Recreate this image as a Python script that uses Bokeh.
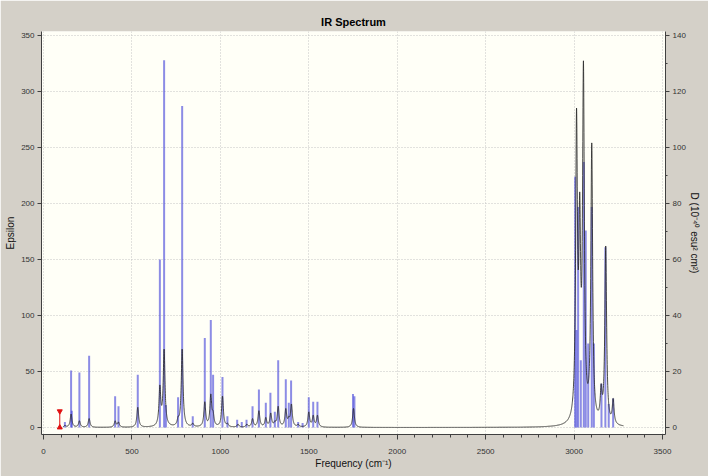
import numpy as np
from bokeh.plotting import figure
from bokeh.models import Range1d, LinearAxis, SingleIntervalTicker, ColumnDataSource
from bokeh.embed import file_html
from bokeh.resources import INLINE

# ---- data ----
stick_freq = [121, 156, 160, 203, 258, 405, 424, 533, 658, 682, 692, 761, 784, 844,
              912, 946, 959, 1012, 1040, 1095, 1121, 1148, 1182, 1218, 1257, 1283,
              1308, 1327, 1370, 1387, 1400, 1440, 1465, 1500, 1525, 1549, 1750, 1758,
              3006, 3014, 3023, 3038, 3055, 3066, 3080, 3100, 3112, 3155, 3177, 3196, 3221]
stick_eps = [5, 51, 15, 49, 64, 28, 19, 47, 150, 328, 20, 27, 287, 10,
             80, 96, 47, 45, 10, 7, 5, 7, 19, 34, 22, 31,
             14, 60, 43, 22, 42, 5, 4, 27, 23, 23, 30, 28,
             224, 87, 197, 60, 237, 176, 75, 197, 75, 39, 161, 21, 26]

band_freq = [121, 156, 203, 258, 405, 424, 533, 658, 682, 761, 784, 844, 912, 946,
             959, 1012, 1040, 1100, 1150, 1182, 1218, 1257, 1285, 1308, 1327, 1370,
             1387, 1402, 1440, 1500, 1525, 1549, 1753,
             3014, 3032, 3053, 3075, 3100, 3153, 3179, 3221]
band_eps = [2, 12, 6, 8, 6, 5, 18, 38, 70, 10, 70, 4, 23, 30,
            15, 28, 4, 3, 3, 8, 15, 9, 13, 6, 19, 17,
            10, 21, 3, 14, 11, 11, 17,
            285, 210, 326, 20, 253, 39, 162, 26]
band_hwhm = 6.0
band_start, band_end = 110, 3280

marker_freq = [92]
marker_eps = [14.5]

# ---- broadened band (Lorentzian sum passing through the read peak heights) ----
bf = np.array(band_freq, float)
bh = np.array(band_eps, float)
A = band_hwhm**2 / ((bf[:, None] - bf[None, :])**2 + band_hwhm**2)
amp = np.clip(np.linalg.solve(A, bh), 0, None)
xs = np.arange(band_start, band_end, 0.5)
ys = (amp[None, :] * band_hwhm**2 / ((xs[:, None] - bf[None, :])**2 + band_hwhm**2)).sum(axis=1)

# ---- figure ----
X0, X1 = -11.3, 3517
Y0, Y1 = -6.25, 353.6
p = figure(width=708, height=476, output_backend="svg", toolbar_location=None,
           x_range=Range1d(X0, X1), y_range=Range1d(Y0, Y1),
           min_border_left=41, min_border_right=43, min_border_top=31, min_border_bottom=42)
p.extra_y_ranges = {"D": Range1d(Y0 * 0.4, Y1 * 0.4)}

p.background_fill_color = "#fffff7"
p.border_fill_color = "#d4d0c8"
p.outline_line_color = None

p.title.text = "IR Spectrum"
p.title.align = "center"
p.title.text_font = "Liberation Sans"
p.title.text_font_size = "11px"
p.title.text_font_style = "bold"
p.title.text_color = "#000000"
p.title.standoff = 7

xt = SingleIntervalTicker(interval=500, num_minor_ticks=5)
yt = SingleIntervalTicker(interval=50, num_minor_ticks=0)
p.xaxis.ticker = xt
p.yaxis.ticker = yt
p.xgrid.ticker = xt
p.ygrid.ticker = yt
for g in (p.xgrid, p.ygrid):
    g.grid_line_color = "#c4c4c4"
    g.grid_line_dash = "1 2"

p.xaxis.axis_label = "Frequency (cm⁻¹)"
p.yaxis.axis_label = "Epsilon"
rax = LinearAxis(y_range_name="D", ticker=SingleIntervalTicker(interval=20, num_minor_ticks=2),
                 axis_label="D (10⁻⁴⁰ esu² cm²)")
p.add_layout(rax, "right")

for ax in (p.xaxis[0], p.yaxis[0], rax):
    ax.axis_line_color = "#404040"
    ax.major_tick_line_color = "#404040"
    ax.minor_tick_line_color = "#404040"
    ax.major_tick_in = 0
    ax.major_tick_out = 4
    ax.minor_tick_in = 0
    ax.minor_tick_out = 2
    ax.major_label_text_font = "Liberation Sans"
    ax.major_label_text_font_size = "8px"
    ax.major_label_text_color = "#333333"
    ax.major_label_standoff = 3
    ax.axis_label_text_font = "Liberation Sans"
    ax.axis_label_text_font_size = "10px"
    ax.axis_label_text_font_style = "normal"
    ax.axis_label_text_color = "#111111"
    ax.axis_label_standoff = 2
p.yaxis[0].minor_tick_line_color = None
p.xaxis[0].major_tick_out = 5
p.xaxis[0].minor_tick_out = 3
p.xaxis[0].major_label_standoff = 9
p.xaxis[0].axis_label_standoff = 1
rax.axis_label_standoff = 0

# sticks
ssrc = ColumnDataSource(dict(x=stick_freq, y0=[0] * len(stick_freq), y1=stick_eps))
p.segment(x0="x", y0="y0", x1="x", y1="y1", source=ssrc,
          line_color="#4040d8", line_alpha=0.6, line_width=2)

# broadened spectrum
p.line(xs, ys, line_color="#2a2a2a", line_width=1, line_alpha=0.85)

# red marker
p.segment(x0=marker_freq, y0=[0], x1=marker_freq, y1=marker_eps, line_color="#e01010", line_width=1)
p.scatter(marker_freq, marker_eps, marker="inverted_triangle", size=5, color="#e01010")
p.scatter(marker_freq, [0], marker="triangle", size=5, color="#e01010")

open("out.html", "w").write(file_html(p, INLINE))
